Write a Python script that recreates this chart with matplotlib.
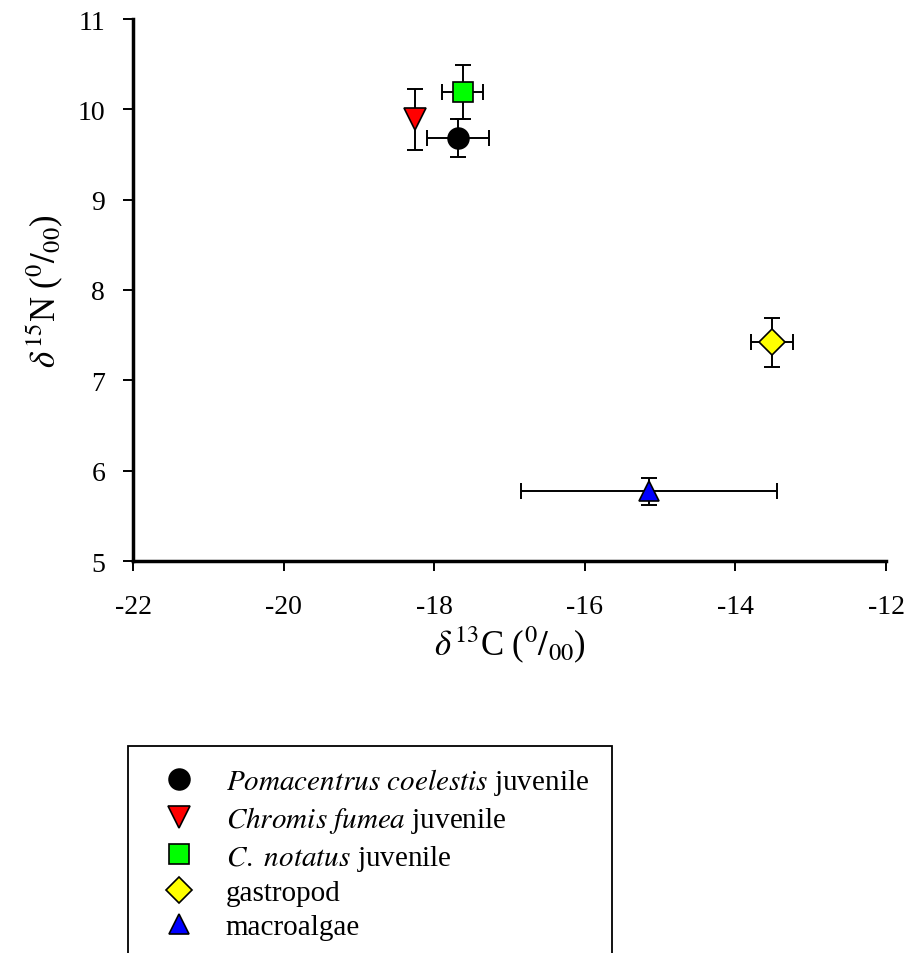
import matplotlib
matplotlib.use("Agg")
import matplotlib.pyplot as plt
from matplotlib.patches import Rectangle

plt.rcParams['font.family'] = ['Liberation Serif', 'DejaVu Serif']
plt.rcParams['mathtext.fontset'] = 'stix'
plt.rcParams['axes.unicode_minus'] = False

# data: mean d13C, d15N with SD
labels = [r'$\mathit{Pomacentrus\ coelestis}$ juvenile',
          r'$\mathit{Chromis\ fumea}$ juvenile',
          r'$\mathit{C.\ notatus}$ juvenile',
          'gastropod',
          'macroalgae']
d13c = [-17.68, -18.25, -17.62, -13.51, -15.15]
d13c_sd = [0.41, 0.0, 0.27, 0.28, 1.70]
d15n = [9.68, 9.89, 10.19, 7.42, 5.77]
d15n_sd = [0.21, 0.34, 0.30, 0.27, 0.15]
markers = ['o', 'v', 's', 'D', '^']
fills = ['black', 'red', '#00ff00', 'yellow', 'blue']
sizes = [15, 16, 14, 13, 15]

fig = plt.figure(figsize=(9.1, 9.54), dpi=100)
ax = fig.add_axes([133/910, 1-562/954, (886-133)/910, (562-20)/954])

handles = []
order = [1, 0, 2, 3, 4]
for i in order:
    ax.errorbar(d13c[i], d15n[i], xerr=d13c_sd[i] if d13c_sd[i] > 0 else None,
                yerr=d15n_sd[i], fmt='none', ecolor='black', elinewidth=1.4,
                capsize=6, capthick=1.4, zorder=2)
for i in range(5):
    h, = ax.plot(d13c[i], d15n[i], linestyle='none', marker=markers[i],
                 markersize=sizes[i], markerfacecolor=fills[i],
                 markeredgecolor='black', markeredgewidth=1.2, zorder=3,
                 label=labels[i])
    handles.append(h)

ax.set_xlim(-22, -12)
ax.set_ylim(5, 11)
ax.set_xticks([-22, -20, -18, -16, -14, -12])
ax.set_yticks([5, 6, 7, 8, 9, 10, 11])
ax.spines['top'].set_visible(False)
ax.spines['right'].set_visible(False)
ax.spines['left'].set_linewidth(2.5)
ax.spines['bottom'].set_linewidth(2.5)
ax.tick_params(direction='out', length=7, width=1.4, labelsize=20)
ax.tick_params(axis='x', pad=17)
ax.tick_params(axis='y', pad=13)

ax.set_xlabel(r'$\delta^{13}$C ($^{0}/_{00}$)', fontsize=25, labelpad=3)
ax.set_ylabel(r'$\delta^{15}$N ($^{0}/_{00}$)', fontsize=25, labelpad=9)

# legend frame runs off the bottom of the figure
fig.patches.append(Rectangle((128/910, -0.05), (612-128)/910, (1-747/954) + 0.05,
                             transform=fig.transFigure, fill=False,
                             edgecolor='black', linewidth=1.3))
leg = fig.legend(handles=handles, loc='upper left',
                 bbox_to_anchor=(166/910, 1-767/954), frameon=False,
                 fontsize=21, labelspacing=0.25, handletextpad=1.15,
                 handlelength=0.9, borderaxespad=0, borderpad=0)

fig.savefig('out.png', dpi=100)
